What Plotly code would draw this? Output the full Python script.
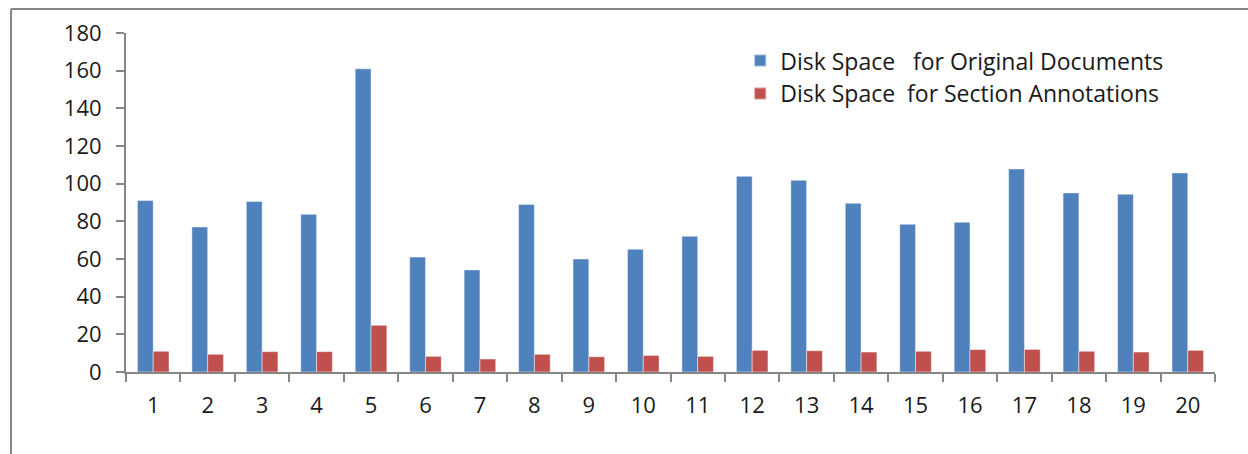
import plotly.graph_objects as go

categories = [str(i) for i in range(1, 21)]
original_docs = [91, 77, 90.5, 83.7, 161, 61, 54.2, 89, 60, 65.2, 72.1, 103.9, 101.8, 89.6, 78.4, 79.5, 107.8, 95.1, 94.4, 105.7]
section_annots = [11, 9.4, 10.8, 10.8, 24.8, 8.3, 6.9, 9.4, 8.1, 8.8, 8.3, 11.5, 11.3, 10.6, 11, 11.9, 12, 11, 10.6, 11.5]
y_ticks = [0, 20, 40, 60, 80, 100, 120, 140, 160, 180]

NB = "\u00a0"
name_blue = "Disk Space" + NB * 3 + "for Original Documents"
name_red = "Disk Space" + NB + " for Section Annotations"

FONT = "Open Sans"
AXIS = "#868686"

fig = go.Figure()
fig.add_trace(go.Bar(x=categories, y=original_docs, name=name_blue,
                     marker=dict(color="#4F81BD", line=dict(color="rgba(255,255,255,0.45)", width=1))))
fig.add_trace(go.Bar(x=categories, y=section_annots, name=name_red,
                     marker=dict(color="#C0504D", line=dict(color="rgba(255,255,255,0.45)", width=1))))

fig.update_layout(
    width=1248, height=454,
    margin=dict(l=126, r=33, t=33, b=82),
    paper_bgcolor="white", plot_bgcolor="white",
    barmode="group", bargap=0.42, bargroupgap=0,
    font=dict(family=FONT, size=22, color="#1a1a1a"),
    showlegend=True,
    legend=dict(x=0.564, y=0.982, xanchor="left", yanchor="top",
                bgcolor="rgba(0,0,0,0)", font=dict(size=23, family=FONT),
                tracegroupgap=0, itemsizing="constant"),
    xaxis=dict(type="category", showline=True, linecolor=AXIS, linewidth=2,
               ticks="outside", tickson="boundaries", ticklen=8, tickcolor=AXIS, tickwidth=2,
               showgrid=False, tickfont=dict(size=22, family=FONT), ticklabelstandoff=13),
    yaxis=dict(range=[0, 180], tickvals=y_ticks, showline=True, linecolor=AXIS, linewidth=2,
               ticks="outside", ticklen=8, tickcolor=AXIS, tickwidth=2,
               showgrid=False, zeroline=False, tickfont=dict(size=22, family=FONT),
               ticklabelstandoff=10),
    shapes=[
        dict(type="line", xref="paper", yref="paper", x0=(11 - 126) / 1089, x1=(11 - 126) / 1089,
             y0=(372 - 9) / 339, y1=(372 - 460) / 339, line=dict(color=AXIS, width=2)),
        dict(type="line", xref="paper", yref="paper", x0=(11 - 126) / 1089, x1=(1250 - 126) / 1089,
             y0=(372 - 9) / 339, y1=(372 - 9) / 339, line=dict(color=AXIS, width=2)),
    ],
)

fig.write_html("out.html")
